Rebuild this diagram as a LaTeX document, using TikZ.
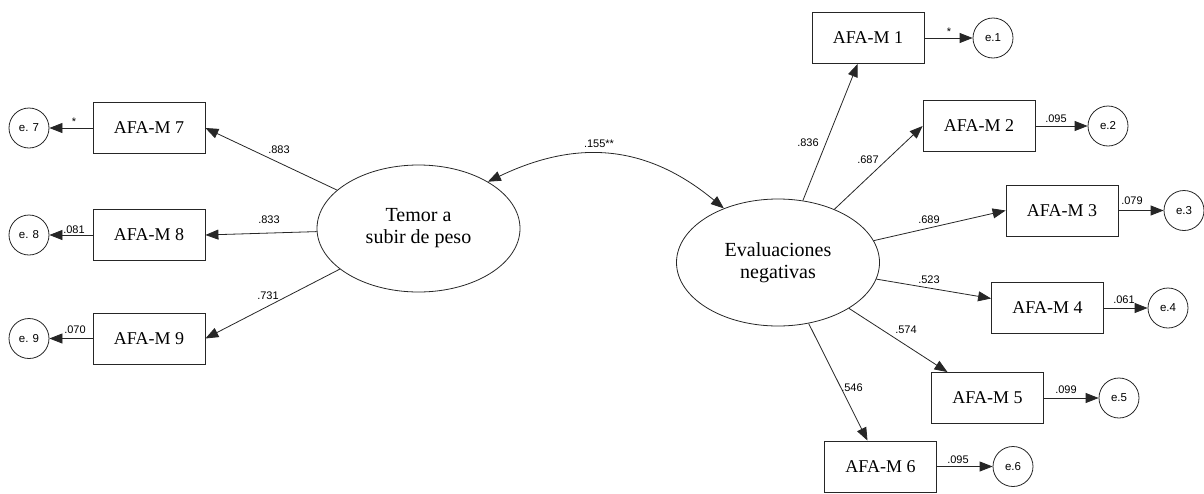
\documentclass[tikz,border=0pt]{standalone}
\usepackage{fontspec}
\setmainfont{Liberation Serif}
\setsansfont{Liberation Sans}
\usetikzlibrary{arrows.meta,positioning,shapes.geometric}

\begin{document}
\begin{tikzpicture}[
		x=1pt, y=-1pt,
		latent/.style={ellipse, draw, minimum width=203pt, minimum height=127pt, inner sep=0pt, align=center, font=\fontsize{20}{22}\selectfont},
		item/.style={rectangle, draw, minimum width=112pt, minimum height=51pt, inner sep=0pt, font=\fontsize{18}{20}\selectfont},
		err/.style={circle, draw, minimum size=40pt, inner sep=0pt, font=\sffamily\fontsize{11.5}{13}\selectfont},
		coef/.style={inner sep=0pt, anchor=base, font=\sffamily\fontsize{11}{13}\selectfont},
		line width=0.8pt, draw=black!85,
		->,>={Triangle[length=13pt,width=10pt]}
		]
		\useasboundingbox (0,0) rectangle (1204,493);

		% factores latentes
		\node[latent] (temor) at (418.5,228.5) {Temor a\\subir de peso};
		\node[latent] (eval) at (778,262.5) {Evaluaciones\\negativas};

		% items de Temor a subir de peso
		\node[item] (m7) at (149,128) {AFA-M 7};
		\node[item] (m8) at (149,235) {AFA-M 8};
		\node[item] (m9) at (149,338.5) {AFA-M 9};
		\node[err] (e7) at (29,128) {e. 7};
		\node[err] (e8) at (29,235) {e. 8};
		\node[err] (e9) at (29,338.5) {e. 9};

		% items de Evaluaciones negativas
		\node[item] (m1) at (868,38) {AFA-M 1};
		\node[item] (m2) at (979,126) {AFA-M 2};
		\node[item] (m3) at (1062,210.5) {AFA-M 3};
		\node[item] (m4) at (1047.5,308) {AFA-M 4};
		\node[item] (m5) at (987.5,398) {AFA-M 5};
		\node[item] (m6) at (880.5,466.5) {AFA-M 6};
		\node[err] (e1) at (993,38) {e.1};
		\node[err] (e2) at (1108,126) {e.2};
		\node[err] (e3) at (1184,210.5) {e.3};
		\node[err] (e4) at (1168,308) {e.4};
		\node[err] (e5) at (1119,398) {e.5};
		\node[err] (e6) at (1013,466.5) {e.6};

		% cargas
		\draw (temor) -- (m7.east);
		\draw (temor) -- (m8.east);
		\draw (temor) -- (m9.east);
		\draw (eval) -- (m1);
		\draw (eval) -- (m2.west);
		\draw (eval) -- (m3.west);
		\draw (eval) -- (m4);
		\draw (eval) -- (m5);
		\draw (eval) -- (m6);

		% errores
		\draw (m7) -- (e7);
		\draw (m8) -- (e8);
		\draw (m9) -- (e9);
		\draw (m1) -- (e1);
		\draw (m2) -- (e2);
		\draw (m3) -- (e3);
		\draw (m4) -- (e4);
		\draw (m5) -- (e5);
		\draw (m6) -- (e6);

		% covarianza
		\draw[<->] (temor.34) .. controls (575,140) and (645,143) .. (eval.135);

		% coeficientes
		\node[coef] (c155) at (599,147) {.155**};
		\node[coef] (c7) at (279,153) {.883};
		\node[coef] (c8) at (269,223) {.833};
		\node[coef] (c9) at (268,299) {.731};
		\node[coef] (r7) at (74,125) {*};
		\node[coef] (r8) at (74,233) {.081};
		\node[coef] (r9) at (75,333) {.070};
		\node[coef] (c1) at (808,146) {.836};
		\node[coef] (c2) at (868,163) {.687};
		\node[coef] (c3) at (929,223) {.689};
		\node[coef] (c4) at (929,283) {.523};
		\node[coef] (c5) at (906,333) {.574};
		\node[coef] (c6) at (852,391) {.546};
		\node[coef] (r1) at (949,35) {*};
		\node[coef] (r2) at (1056,122) {.095};
		\node[coef] (r3) at (1132,204) {.079};
		\node[coef] (r4) at (1124,303) {.061};
		\node[coef] (r5) at (1066,393) {.099};
		\node[coef] (r6) at (958,463) {.095};
	\end{tikzpicture}
\end{document}
